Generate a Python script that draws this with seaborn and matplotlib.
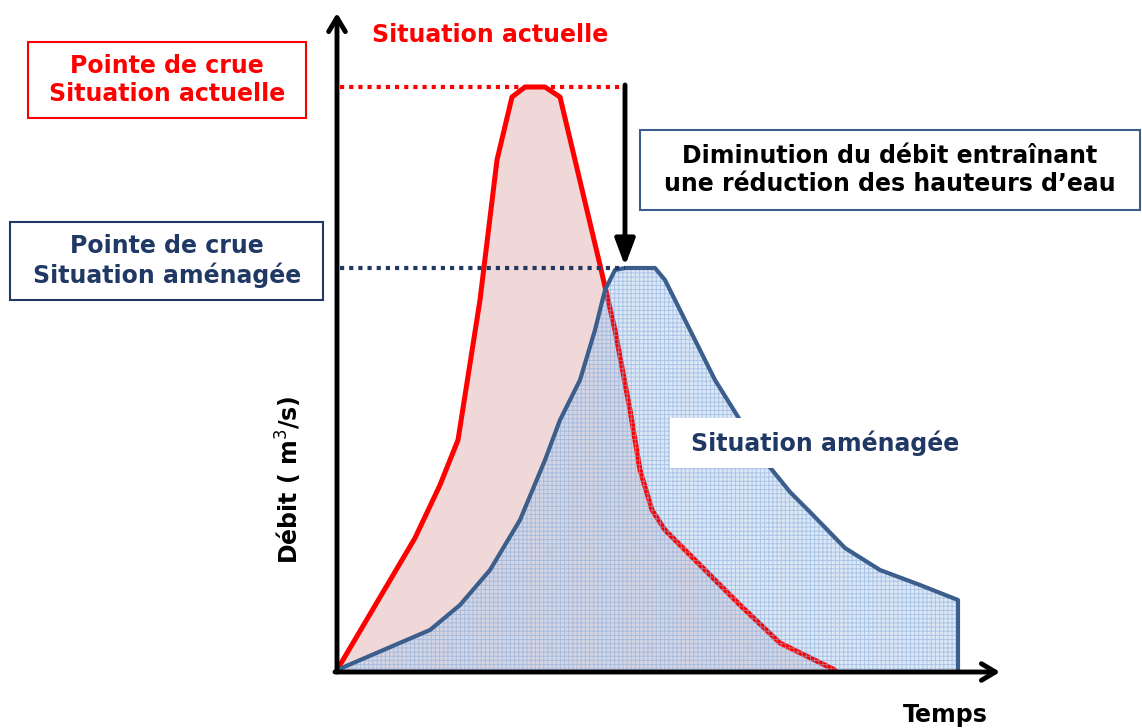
import numpy as np
import pandas as pd
import matplotlib
matplotlib.use("Agg")
import matplotlib.pyplot as plt
from matplotlib.patches import Rectangle
import seaborn as sns

sns.set_style("white")
plt.rcParams['font.family'] = ['DejaVu Sans']
plt.rcParams['hatch.linewidth'] = 0.7

# hydrogramme - situation actuelle (temps, debit)
t_actuel = [0, 78, 103, 121, 143, 160, 175, 188, 208, 223, 238, 263, 278, 293, 303, 315, 328, 363, 403, 443, 498]
q_actuel = [0, 132, 185, 230, 370, 510, 573, 583, 583, 573, 510, 405, 340, 260, 200, 160, 140, 105, 65, 27, 0]

# hydrogramme - situation amenagee
t_amenage = [0, 58, 93, 123, 153, 183, 208, 223, 243, 258, 268, 278, 288, 318, 328, 353, 378, 403, 423, 453, 473, 508, 543, 583, 621, 621]
q_amenage = [0, 25, 40, 65, 100, 150, 210, 250, 290, 340, 380, 400, 402, 402, 390, 340, 290, 250, 215, 178, 158, 122, 100, 85, 70, 0]

RED = '#ff0000'
BLUE = '#3b5e8c'
NAVY = '#1f3864'
FS = 17
LS = 1.2

actuel = pd.DataFrame({'temps': t_actuel, 'debit': q_actuel})
amenage = pd.DataFrame({'temps': t_amenage, 'debit': q_amenage})

fig = plt.figure(figsize=(11.42, 7.28), dpi=100)
ax = fig.add_axes([0, 0, 1, 1])
ax.set_xlim(-337, 805)
ax.set_ylim(-58, 670)
ax.axis('off')

# situation actuelle
ax.fill(actuel['temps'], actuel['debit'], color='#f0d8d8', lw=0, zorder=1)

# situation amenagee (quadrillage bleu)
ax.fill(amenage['temps'], amenage['debit'], facecolor='#bcd3ef', alpha=0.5, lw=0, zorder=3)
sns.lineplot(data=actuel, x='temps', y='debit', sort=False, estimator=None,
             color=RED, lw=3.6, ax=ax, zorder=3.2)
ax.fill(amenage['temps'], amenage['debit'], facecolor='none', edgecolor='#8aaedc',
        hatch='++++', lw=0, alpha=0.6, zorder=3.4)
sns.lineplot(data=amenage, x='temps', y='debit', sort=False, estimator=None,
             color=BLUE, lw=3.0, ax=ax, zorder=4)

# pointes de crue
pic_actuel = max(q_actuel)
pic_amenage = max(q_amenage)
ax.plot([3, 288], [pic_actuel, pic_actuel], color=RED, lw=3, ls=(0, (1, 1.2)), zorder=5)
ax.plot([3, 288], [pic_amenage, pic_amenage], color=NAVY, lw=3, ls=(0, (1, 1.2)), zorder=5)
ax.annotate('', xy=(288, pic_amenage + 2), xytext=(288, pic_actuel + 2),
            arrowprops=dict(arrowstyle='-|>,head_length=1.6,head_width=0.6',
                            color='black', lw=3.5, shrinkA=0, shrinkB=0), zorder=6)

# axes
ax.annotate('', xy=(0, 657), xytext=(0, -2),
            arrowprops=dict(arrowstyle='->,head_length=1.0,head_width=0.6',
                            color='black', lw=3.5, shrinkA=0, shrinkB=0), zorder=7)
ax.annotate('', xy=(663, -2), xytext=(-2, -2),
            arrowprops=dict(arrowstyle='->,head_length=1.0,head_width=0.6',
                            color='black', lw=3.5, shrinkA=0, shrinkB=0), zorder=7)

ax.text(608, -45, 'Temps', fontsize=FS, fontweight='bold', color='black',
        ha='center', va='center')
ax.text(-48, 190, 'Débit ( m$^{3}$/s)', fontsize=FS, fontweight='bold', color='black',
        rotation=90, ha='center', va='center')

# cadres
ax.add_patch(Rectangle((-309, 552), 278, 76, fc='white', ec=RED, lw=1.5, zorder=8))
ax.add_patch(Rectangle((-327, 370), 313, 78, fc='white', ec=NAVY, lw=1.5, zorder=8))
ax.add_patch(Rectangle((303, 460), 500, 80, fc='white', ec=BLUE, lw=1.5, zorder=8))
ax.add_patch(Rectangle((333, 202), 305, 50, fc='white', ec='none', zorder=8))

# etiquettes
ax.text(153, 635, 'Situation actuelle', color=RED, fontsize=FS, fontweight='bold',
        ha='center', va='center', zorder=9)
ax.text(-170, 590, 'Pointe de crue\nSituation actuelle', color=RED, fontsize=FS,
        fontweight='bold', ha='center', va='center', linespacing=LS, zorder=9)
ax.text(-170, 409, 'Pointe de crue\nSituation aménagée', color=NAVY, fontsize=FS,
        fontweight='bold', ha='center', va='center', linespacing=LS, zorder=9)
ax.text(553, 500, 'Diminution du débit entraînant\nune réduction des hauteurs d’eau',
        color='black', fontsize=FS, fontweight='bold', ha='center', va='center',
        linespacing=LS, zorder=9)
ax.text(488, 227, 'Situation aménagée', color=NAVY, fontsize=FS, fontweight='bold',
        ha='center', va='center', zorder=9)

fig.savefig('out.png', dpi=100)
